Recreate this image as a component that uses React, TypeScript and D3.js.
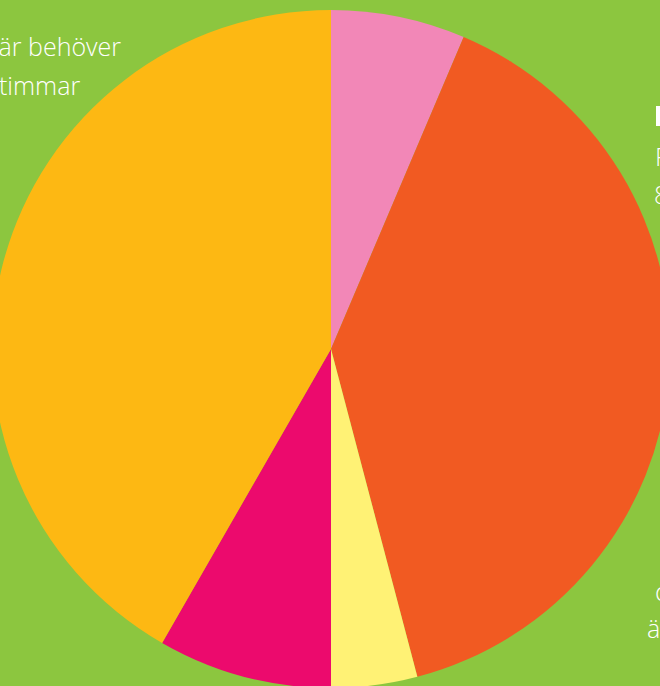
import React from "react";
import * as d3 from "d3";

const categories = ["Rosa", "Orange", "Gul", "Magenta", "Guld"];
const values = [6.4, 39.5, 4.1, 8.3, 41.7];
const colors = ["#F287B7", "#F15A22", "#FFF275", "#EC0A6D", "#FDB813"];

const leftLines = ["är behöver", "timmar"];
const rightLines = ["F", "8"];
const bottomRightLines = ["c", "ä"];

const W = 660;
const H = 686;

export default function App() {
  const cx = 331;
  const cy = 349;
  const r = 339;
  const pie = d3.pie<number>().sort(null).value((d) => d);
  const arcs = pie(values);
  const arc = d3.arc<d3.PieArcDatum<number>>().innerRadius(0).outerRadius(r);
  const font = "'Open Sans', sans-serif";
  return (
    <div style={{ position: "absolute", left: 0, top: 0 }}>
      <svg width={W} height={H} style={{ display: "block" }}>
        <rect width={W} height={H} fill="#8CC63F" />
        <g transform={`translate(${cx},${cy})`}>
          {arcs.map((a, i) => (
            <path key={categories[i]} d={arc(a) || ""} fill={colors[i]} />
          ))}
        </g>
        <g fill="#fff" fontFamily={font} fontWeight={300} fontSize={25}>
          <text x={121} y={56} textAnchor="end">{leftLines[0]}</text>
          <text x={-1} y={95}>{leftLines[1]}</text>
          <rect x={656} y={106} width={20} height={20} />
          <text x={655} y={166}>{rightLines[0]}</text>
          <text x={654} y={204}>{rightLines[1]}</text>
          <text x={655} y={601}>{bottomRightLines[0]}</text>
          <text x={647} y={638}>{bottomRightLines[1]}</text>
        </g>
      </svg>
    </div>
  );
}
